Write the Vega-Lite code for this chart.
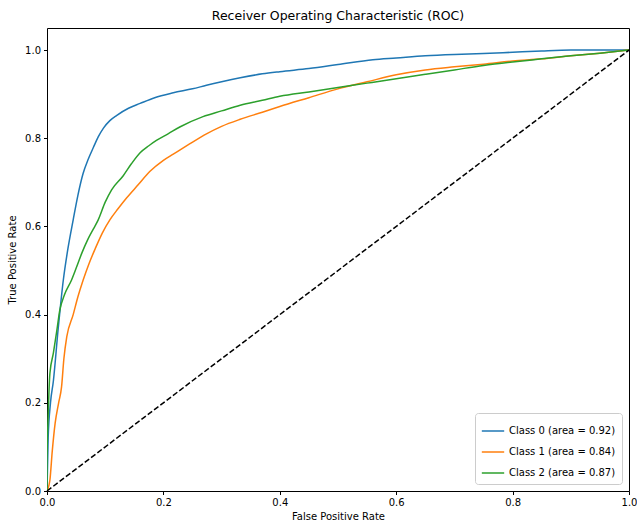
{
  "$schema": "https://vega.github.io/schema/vega-lite/v6.json",
  "width": 582,
  "height": 463,
  "autosize": {"type": "none"},
  "padding": {"left": 47, "top": 28, "right": 8, "bottom": 33},
  "background": "white",
  "config": {
    "font": "DejaVu Sans",
    "view": {"stroke": "black", "strokeWidth": 1},
    "axis": {"grid": false, "domain": false, "tickColor": "black", "tickSize": 3.5, "labelFontSize": 10, "labelColor": "black", "titleFontSize": 10, "titleFontWeight": "normal", "titleColor": "black", "labelPadding": 3, "labelFlush": false},
    "title": {"fontSize": 12.5, "fontWeight": "normal", "color": "black", "offset": 6}
  },
  "title": {"text": "Receiver Operating Characteristic (ROC)"},
  "datasets": {
    "roc": [
      {"fpr": 0.0, "tpr": 0.0, "cls": "Class 0 (area = 0.92)"},
      {"fpr": 0.002, "tpr": 0.12, "cls": "Class 0 (area = 0.92)"},
      {"fpr": 0.006, "tpr": 0.2, "cls": "Class 0 (area = 0.92)"},
      {"fpr": 0.011, "tpr": 0.25, "cls": "Class 0 (area = 0.92)"},
      {"fpr": 0.019, "tpr": 0.365, "cls": "Class 0 (area = 0.92)"},
      {"fpr": 0.028, "tpr": 0.478, "cls": "Class 0 (area = 0.92)"},
      {"fpr": 0.036, "tpr": 0.55, "cls": "Class 0 (area = 0.92)"},
      {"fpr": 0.045, "tpr": 0.615, "cls": "Class 0 (area = 0.92)"},
      {"fpr": 0.053, "tpr": 0.67, "cls": "Class 0 (area = 0.92)"},
      {"fpr": 0.062, "tpr": 0.72, "cls": "Class 0 (area = 0.92)"},
      {"fpr": 0.071, "tpr": 0.753, "cls": "Class 0 (area = 0.92)"},
      {"fpr": 0.08, "tpr": 0.78, "cls": "Class 0 (area = 0.92)"},
      {"fpr": 0.088, "tpr": 0.803, "cls": "Class 0 (area = 0.92)"},
      {"fpr": 0.097, "tpr": 0.823, "cls": "Class 0 (area = 0.92)"},
      {"fpr": 0.108, "tpr": 0.84, "cls": "Class 0 (area = 0.92)"},
      {"fpr": 0.12, "tpr": 0.852, "cls": "Class 0 (area = 0.92)"},
      {"fpr": 0.14, "tpr": 0.868, "cls": "Class 0 (area = 0.92)"},
      {"fpr": 0.16, "tpr": 0.879, "cls": "Class 0 (area = 0.92)"},
      {"fpr": 0.185, "tpr": 0.892, "cls": "Class 0 (area = 0.92)"},
      {"fpr": 0.217, "tpr": 0.903, "cls": "Class 0 (area = 0.92)"},
      {"fpr": 0.25, "tpr": 0.912, "cls": "Class 0 (area = 0.92)"},
      {"fpr": 0.274, "tpr": 0.92, "cls": "Class 0 (area = 0.92)"},
      {"fpr": 0.3, "tpr": 0.928, "cls": "Class 0 (area = 0.92)"},
      {"fpr": 0.332, "tpr": 0.937, "cls": "Class 0 (area = 0.92)"},
      {"fpr": 0.37, "tpr": 0.946, "cls": "Class 0 (area = 0.92)"},
      {"fpr": 0.4, "tpr": 0.951, "cls": "Class 0 (area = 0.92)"},
      {"fpr": 0.45, "tpr": 0.958, "cls": "Class 0 (area = 0.92)"},
      {"fpr": 0.5, "tpr": 0.967, "cls": "Class 0 (area = 0.92)"},
      {"fpr": 0.56, "tpr": 0.978, "cls": "Class 0 (area = 0.92)"},
      {"fpr": 0.6, "tpr": 0.982, "cls": "Class 0 (area = 0.92)"},
      {"fpr": 0.65, "tpr": 0.987, "cls": "Class 0 (area = 0.92)"},
      {"fpr": 0.7, "tpr": 0.99, "cls": "Class 0 (area = 0.92)"},
      {"fpr": 0.75, "tpr": 0.992, "cls": "Class 0 (area = 0.92)"},
      {"fpr": 0.8, "tpr": 0.995, "cls": "Class 0 (area = 0.92)"},
      {"fpr": 0.85, "tpr": 0.998, "cls": "Class 0 (area = 0.92)"},
      {"fpr": 0.9, "tpr": 1.0, "cls": "Class 0 (area = 0.92)"},
      {"fpr": 1.0, "tpr": 1.0, "cls": "Class 0 (area = 0.92)"},

      {"fpr": 0.0, "tpr": 0.0, "cls": "Class 1 (area = 0.84)"},
      {"fpr": 0.005, "tpr": 0.025, "cls": "Class 1 (area = 0.84)"},
      {"fpr": 0.009, "tpr": 0.09, "cls": "Class 1 (area = 0.84)"},
      {"fpr": 0.014, "tpr": 0.154, "cls": "Class 1 (area = 0.84)"},
      {"fpr": 0.02, "tpr": 0.2, "cls": "Class 1 (area = 0.84)"},
      {"fpr": 0.025, "tpr": 0.236, "cls": "Class 1 (area = 0.84)"},
      {"fpr": 0.029, "tpr": 0.3, "cls": "Class 1 (area = 0.84)"},
      {"fpr": 0.034, "tpr": 0.35, "cls": "Class 1 (area = 0.84)"},
      {"fpr": 0.045, "tpr": 0.4, "cls": "Class 1 (area = 0.84)"},
      {"fpr": 0.053, "tpr": 0.44, "cls": "Class 1 (area = 0.84)"},
      {"fpr": 0.062, "tpr": 0.478, "cls": "Class 1 (area = 0.84)"},
      {"fpr": 0.072, "tpr": 0.515, "cls": "Class 1 (area = 0.84)"},
      {"fpr": 0.083, "tpr": 0.55, "cls": "Class 1 (area = 0.84)"},
      {"fpr": 0.095, "tpr": 0.585, "cls": "Class 1 (area = 0.84)"},
      {"fpr": 0.108, "tpr": 0.615, "cls": "Class 1 (area = 0.84)"},
      {"fpr": 0.122, "tpr": 0.64, "cls": "Class 1 (area = 0.84)"},
      {"fpr": 0.137, "tpr": 0.665, "cls": "Class 1 (area = 0.84)"},
      {"fpr": 0.157, "tpr": 0.695, "cls": "Class 1 (area = 0.84)"},
      {"fpr": 0.177, "tpr": 0.725, "cls": "Class 1 (area = 0.84)"},
      {"fpr": 0.2, "tpr": 0.75, "cls": "Class 1 (area = 0.84)"},
      {"fpr": 0.217, "tpr": 0.764, "cls": "Class 1 (area = 0.84)"},
      {"fpr": 0.245, "tpr": 0.787, "cls": "Class 1 (area = 0.84)"},
      {"fpr": 0.274, "tpr": 0.81, "cls": "Class 1 (area = 0.84)"},
      {"fpr": 0.3, "tpr": 0.827, "cls": "Class 1 (area = 0.84)"},
      {"fpr": 0.332, "tpr": 0.843, "cls": "Class 1 (area = 0.84)"},
      {"fpr": 0.37, "tpr": 0.859, "cls": "Class 1 (area = 0.84)"},
      {"fpr": 0.4, "tpr": 0.872, "cls": "Class 1 (area = 0.84)"},
      {"fpr": 0.45, "tpr": 0.892, "cls": "Class 1 (area = 0.84)"},
      {"fpr": 0.5, "tpr": 0.912, "cls": "Class 1 (area = 0.84)"},
      {"fpr": 0.55, "tpr": 0.928, "cls": "Class 1 (area = 0.84)"},
      {"fpr": 0.6, "tpr": 0.944, "cls": "Class 1 (area = 0.84)"},
      {"fpr": 0.65, "tpr": 0.955, "cls": "Class 1 (area = 0.84)"},
      {"fpr": 0.7, "tpr": 0.962, "cls": "Class 1 (area = 0.84)"},
      {"fpr": 0.75, "tpr": 0.968, "cls": "Class 1 (area = 0.84)"},
      {"fpr": 0.8, "tpr": 0.975, "cls": "Class 1 (area = 0.84)"},
      {"fpr": 0.85, "tpr": 0.98, "cls": "Class 1 (area = 0.84)"},
      {"fpr": 0.9, "tpr": 0.987, "cls": "Class 1 (area = 0.84)"},
      {"fpr": 0.95, "tpr": 0.993, "cls": "Class 1 (area = 0.84)"},
      {"fpr": 1.0, "tpr": 1.0, "cls": "Class 1 (area = 0.84)"},

      {"fpr": 0.0, "tpr": 0.0, "cls": "Class 2 (area = 0.87)"},
      {"fpr": 0.0, "tpr": 0.07, "cls": "Class 2 (area = 0.87)"},
      {"fpr": 0.002, "tpr": 0.17, "cls": "Class 2 (area = 0.87)"},
      {"fpr": 0.005, "tpr": 0.267, "cls": "Class 2 (area = 0.87)"},
      {"fpr": 0.011, "tpr": 0.313, "cls": "Class 2 (area = 0.87)"},
      {"fpr": 0.017, "tpr": 0.365, "cls": "Class 2 (area = 0.87)"},
      {"fpr": 0.022, "tpr": 0.41, "cls": "Class 2 (area = 0.87)"},
      {"fpr": 0.03, "tpr": 0.445, "cls": "Class 2 (area = 0.87)"},
      {"fpr": 0.042, "tpr": 0.478, "cls": "Class 2 (area = 0.87)"},
      {"fpr": 0.05, "tpr": 0.505, "cls": "Class 2 (area = 0.87)"},
      {"fpr": 0.06, "tpr": 0.54, "cls": "Class 2 (area = 0.87)"},
      {"fpr": 0.07, "tpr": 0.57, "cls": "Class 2 (area = 0.87)"},
      {"fpr": 0.08, "tpr": 0.595, "cls": "Class 2 (area = 0.87)"},
      {"fpr": 0.088, "tpr": 0.615, "cls": "Class 2 (area = 0.87)"},
      {"fpr": 0.1, "tpr": 0.655, "cls": "Class 2 (area = 0.87)"},
      {"fpr": 0.111, "tpr": 0.683, "cls": "Class 2 (area = 0.87)"},
      {"fpr": 0.131, "tpr": 0.715, "cls": "Class 2 (area = 0.87)"},
      {"fpr": 0.145, "tpr": 0.742, "cls": "Class 2 (area = 0.87)"},
      {"fpr": 0.16, "tpr": 0.767, "cls": "Class 2 (area = 0.87)"},
      {"fpr": 0.175, "tpr": 0.783, "cls": "Class 2 (area = 0.87)"},
      {"fpr": 0.188, "tpr": 0.795, "cls": "Class 2 (area = 0.87)"},
      {"fpr": 0.208, "tpr": 0.81, "cls": "Class 2 (area = 0.87)"},
      {"fpr": 0.229, "tpr": 0.826, "cls": "Class 2 (area = 0.87)"},
      {"fpr": 0.268, "tpr": 0.849, "cls": "Class 2 (area = 0.87)"},
      {"fpr": 0.3, "tpr": 0.862, "cls": "Class 2 (area = 0.87)"},
      {"fpr": 0.332, "tpr": 0.875, "cls": "Class 2 (area = 0.87)"},
      {"fpr": 0.37, "tpr": 0.886, "cls": "Class 2 (area = 0.87)"},
      {"fpr": 0.4, "tpr": 0.895, "cls": "Class 2 (area = 0.87)"},
      {"fpr": 0.45, "tpr": 0.905, "cls": "Class 2 (area = 0.87)"},
      {"fpr": 0.5, "tpr": 0.915, "cls": "Class 2 (area = 0.87)"},
      {"fpr": 0.55, "tpr": 0.925, "cls": "Class 2 (area = 0.87)"},
      {"fpr": 0.6, "tpr": 0.935, "cls": "Class 2 (area = 0.87)"},
      {"fpr": 0.65, "tpr": 0.945, "cls": "Class 2 (area = 0.87)"},
      {"fpr": 0.7, "tpr": 0.955, "cls": "Class 2 (area = 0.87)"},
      {"fpr": 0.75, "tpr": 0.965, "cls": "Class 2 (area = 0.87)"},
      {"fpr": 0.8, "tpr": 0.973, "cls": "Class 2 (area = 0.87)"},
      {"fpr": 0.85, "tpr": 0.98, "cls": "Class 2 (area = 0.87)"},
      {"fpr": 0.9, "tpr": 0.987, "cls": "Class 2 (area = 0.87)"},
      {"fpr": 0.95, "tpr": 0.993, "cls": "Class 2 (area = 0.87)"},
      {"fpr": 1.0, "tpr": 1.0, "cls": "Class 2 (area = 0.87)"}
    ],
    "diag": [
      {"fpr": 0.0, "tpr": 0.0},
      {"fpr": 1.0, "tpr": 1.0}
    ]
  },
  "layer": [
    {
      "data": {"name": "roc"},
      "mark": {"type": "line", "strokeWidth": 1.5, "interpolate": "monotone", "clip": true},
      "encoding": {
        "x": {"field": "fpr", "type": "quantitative", "scale": {"domain": [0, 1], "nice": false, "zero": false}, "axis": {"title": "False Positive Rate", "values": [0, 0.2, 0.4, 0.6, 0.8, 1.0], "format": ".1f", "titlePadding": 4}},
        "y": {"field": "tpr", "type": "quantitative", "scale": {"domain": [0, 1.05], "nice": false, "zero": false}, "axis": {"title": "True Positive Rate", "values": [0, 0.2, 0.4, 0.6, 0.8, 1.0], "format": ".1f", "titlePadding": 7}},
        "color": {
          "field": "cls", "type": "nominal",
          "scale": {"domain": ["Class 0 (area = 0.92)", "Class 1 (area = 0.84)", "Class 2 (area = 0.87)"], "range": ["#1f77b4", "#ff7f0e", "#2ca02c"]},
          "legend": {"title": null, "orient": "bottom-right", "offset": 7, "symbolType": "stroke", "symbolStrokeWidth": 1.5, "symbolSize": 500, "labelFontSize": 10, "labelColor": "black", "fillColor": "white", "strokeColor": "#cccccc", "padding": 6, "cornerRadius": 3, "rowPadding": 4}
        }
      }
    },
    {
      "data": {"name": "diag"},
      "mark": {"type": "line", "color": "black", "strokeWidth": 1.5, "strokeDash": [5.5, 2.4]},
      "encoding": {
        "x": {"field": "fpr", "type": "quantitative"},
        "y": {"field": "tpr", "type": "quantitative"}
      }
    }
  ]
}
